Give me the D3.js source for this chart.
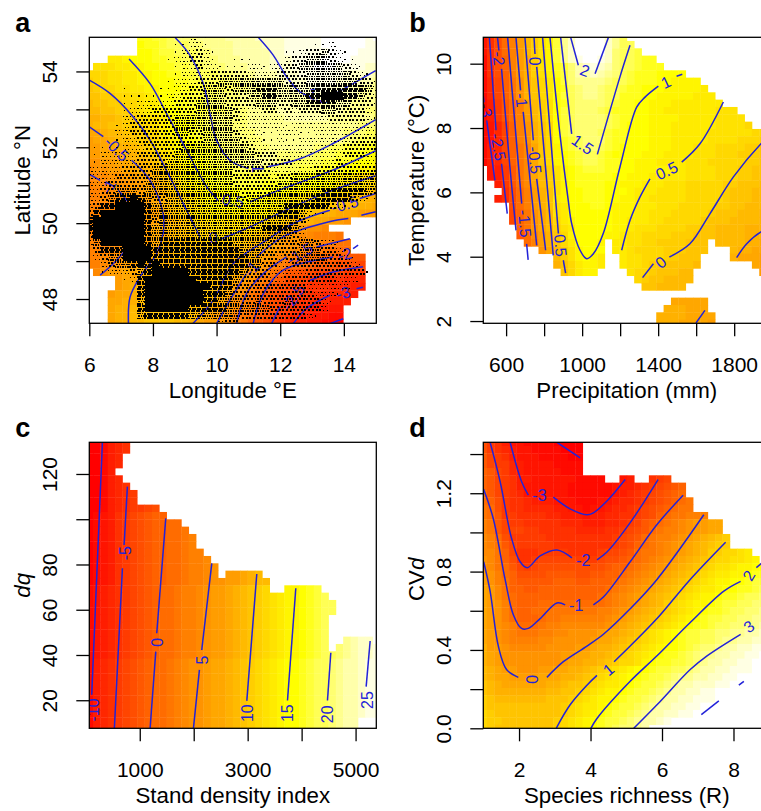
<!DOCTYPE html>
<html>
<head>
<meta charset="utf-8">
<script src="https://cdn.jsdelivr.net/npm/d3@7/dist/d3.min.js"></script>
<style>
  html, body { margin: 0; background: #fff; overflow: hidden; }
  svg { display: block; font-family: "Liberation Sans", Arial, sans-serif; }
</style>
</head>
<body>
<svg id="chart" width="761" height="811"></svg>
<script>
// heat level per grid node, base 36: 0 = red, q = yellow, z = white, . = no data
const surfaceA = [
".......rrs stuuuvvvvw wwwxxxxyyy yyzzzzzzy.",
".......qrr stttuuvvvv wwwwxxxyyy yyzzzzzzyy",
".......qqr sstttuuvvv wwwwwxxyyy yyyzzzzyyy",
"...oopqqqr rssttuuuvv vwwwwxxxyy yyzzzzyyyy",
".nnnooppqq rrssttuuuv vvwwwxxxyy yzzzyyyyxx",
"mmmnnooppq qrrsstttuu vvvwwwxxxy yyyyyxxxxw",
"lmmnnooppq qqrrsstttu uvvwwwwxxx yyyyxxxwwv",
"klmmnnoopp qqqrrssttt uuvvwwwwxx xyyxxwwvvv",
"kkllmmnnop qqrrssttuu uvvvwwwwww xxxxwwwvvv",
"jkkllmmnoo qqrrsstuuu uvvvvwwwww wwwwwwvvvv",
"jjkkllmnop pqqrrssttu uuvvvvwwww wwwwwvvvuu",
"iijjkllmnn opqrrstuuu uuvvvvvwww wwwvvvvvvu",
"ijjkkllmmn opqqrstuuu uuvvvvvvvv vvvvvvvuuu",
"hhijjkklmm opqqrsstuu uuuvvvvvvv vvvvvuuutt",
"ghhijjkllm nopqqrstuu uuuuvvvvvv vvvvvuuttt",
"gghhiijklm nopqqrrstu uuuuuvvvvv vuuttsssrr",
"gghhhiijkl mnopqrrstu uuuuvvuuuu utttssrrqq",
"ffgghhiijk lnopqqrsst uuvvvvuutt ttssrrqqqp",
"effgghhiij kmnopqrrss ttttttttts ssrrrqqppo",
"eeeffgghhi klnoopqrrs ssssssssrr qqppoonmml",
"deefffgghh jkmnopqrrr ssssrrrrqq qqppoonnmm",
"ddeeffgghh iklnooppqq qrrrrqqppp oonnmmllkj",
"ddeeeffggh ijkmnopqqq qqqppooonn mmllkkjjii",
"ddddeeffgh ijklmnoppp pppppoonnm mllkkjjiih",
"dddeeeffgg ijklmnnooo ooooonnmlk kjiihhhggg",
"dddeeeffgg iijklmnnnn nnnnmllkji ihhggf....",
"dddeeeffgh ijjklmmnnn nnmmlkjihg ffe.......",
"dddeeefggh hijjklllmm mllkjihgfe edddc.....",
"dddeeffggh iijjkkllll kkjjihgffe eeddcc....",
"dddeefgghh iijjjkkkkj jjiihgffee dccbbb....",
"ddeefgghhi iijjjjjjji iiihgfedcc bbaa9999..",
"ddeffgghhi iiijjjjjjj iihgfedcbb a9998887..",
".efgghhiij jjjjjjjjjj ihgfecb998 87777666..",
"....ghhiij jjkkkjjjji hgfdcb9887 66555444..",
"....ghiijj jjkkkjjjih gfecb98776 55544433..",
"...ghhiijj jkkkkkkjih fecb987776 5544433...",
"...hhiijjk kkkkkkjihf edcb987665 544333....",
"...hiijjjk kkkkjjihgf edcb986655 33222.....",
"...hiijjkk kkkjjihgff dcb9876543 32211.....",
"...hiijjkk kkjjihggfe dca9865433 22110....."
];

// inventory plots on panel a: ink density per cell (0 none, 6 solid)
const plotDensityA = [
"0000000000 0011211000 0000000000 0000000000",
"0000000000 0011221000 0000000000 0112000000",
"0000000000 0012232100 0000000112 3343210000",
"0000000000 0122332100 1110000233 4443211000",
"0000000000 0012232211 1122122334 4444432100",
"0000000000 0012222333 3322223333 4444443210",
"0000000000 0122233344 4444444333 4444444331",
"0000010000 1122334443 4445554444 4555555542",
"0000011111 1223334443 3344554444 5566655432",
"0000011222 2233344443 3334443344 5555443331",
"0000012223 3333344444 3222332323 3344333321",
"0000022333 3344444444 3222222222 2223333321",
"0000123333 3344444444 2222222122 2222222221",
"0000223333 3344334444 3222112221 1222222222",
"0000122333 3333334444 4322112112 2222223333",
"1111122233 3334444444 4432222222 2222233333",
"1122222333 3344444444 4443332222 2222233322",
"1122222333 3444444444 4444333322 2222322222",
"2222233334 4444444444 3333322222 2333333333",
"2222333334 4444444444 3333323344 4444444444",
"2223333344 4444444444 3333334444 4444444444",
"2233444344 4444444444 4333344444 4455555543",
"2234556543 3444444444 4344444444 4555553211",
"2355666654 4444444444 4444444555 5553211000",
"3566666654 4444444444 4444445554 2110000000",
"5666666653 4444444444 4444444443 1000000000",
"5666666654 4444444444 4444555542 0000000000",
"3666666654 4444444444 4444444432 0000000000",
"2466666654 5555555555 4444433334 4322100000",
"1355566665 5555555555 5444333334 4433210000",
"0234466665 5555555555 5544332334 4443321000",
"0023445656 5555555555 5544332233 3333332100",
"0012223456 6666555555 5433322222 3333333310",
"0000012566 6666655555 4333322333 3333222000",
"0000000566 6666666555 3333333333 2222220000",
"0000000566 6666665554 3333333333 3222100000",
"0000000466 6666665544 4334333433 3321000000",
"0000000566 6666555554 4444433333 3320000000",
"0000000455 5555444444 4333333333 2100000000",
"0000000000 0000000123 3100000000 0000000000"
];
// dots along each side of a cell, by density
const dotsPerSide = [0, 1, 2, 2, 3, 3, 4];

// contour pieces in longitude / latitude, broken where a label sits
const contoursA = [
  [[11.31,54.9],[11.78,54.43],[12.2,53.86],[12.62,53.46],[13.04,53.31]],
  [[13.66,53.38],[14.29,53.68],[15,54.02]],
  [[8.69,54.9],[9.16,54.43],[9.58,53.68],[9.79,52.89],[10,52.19],[10.42,51.66],[11,51.44]],
  [[11.57,51.48],[12.62,51.7],[13.66,52.1],[15,52.73]],
  [[7.25,54.33],[7.91,53.68],[8.43,52.89],[9.06,51.92],[9.69,50.96],[10.05,50.6]],
  [[11.05,50.56],[12.09,50.91],[13.66,51.4],[15,51.91]],
  [[6,53.77],[6.65,53.42],[7.38,52.8],[7.91,52.19],[8.53,51.22],[9.16,50.17],[9.48,49.64]],
  [[10.16,49.59],[11.05,49.9],[12.41,50.43],[13.66,50.87],[15,51.25]],
  [[6,52.54],[6.44,52.28]],
  [[7.33,51.66],[7.91,51.13],[8.32,50.25],[8.32,49.73],[8.12,49.2],[7.59,48.58],[7.28,48.05],[7.23,47.35]],
  [[9.25,47.35],[9.9,47.97],[10.52,48.93],[11.57,49.55],[12.41,49.99],[13.56,50.34]],
  [[14.5,50.65],[15,50.78]],
  [[6,51.29],[6.34,51.13]],
  [[6.91,50.87],[7.38,50.34],[7.49,49.9],[7.28,49.46],[6.75,48.93],[6.34,48.63]],
  [[10,47.35],[10.42,47.97],[10.94,48.67]],
  [[11.26,49.11],[12.09,49.64],[13.51,50.03],[14.14,50.12]],
  [[14.55,50.21],[15,50.3]],
  [[10.63,47.35],[10.94,48.14],[11.47,48.67],[12.2,49.11]],
  [[13.14,49.37],[14.19,49.59]],
  [[11.15,47.35],[11.47,48.14],[12.09,48.76],[13.66,49.11]],
  [[14.29,49.33],[14.45,49.42]],
  [[11.73,47.35],[11.99,47.79]],
  [[12.93,48.49],[13.66,48.71],[14.6,48.85]],
  [[12.41,47.35],[12.83,47.75],[13.56,48.1]],
  [[14.4,48.27],[14.6,48.31]],
  [[13.56,47.35],[13.98,47.48]]
];
const labelsA = [
  [13.2,53.36,"1.5"],[11.28,51.44,"1"],[10.52,50.6,"0.5"],[9.9,49.62,"0"],
  [6.87,51.96,"-0.5"],[14.03,50.5,"-0.5"],[6.6,50.96,"-1"],[11.1,48.8,"-1"],
  [12.62,49.2,"-1.5"],[14.03,49.18,"-2"],[12.41,48.05,"-2.5"],[13.98,48.16,"-3"]
];
const tiltsA = [20,90,10,-10,45,-15,-60,-50,-30,-15,-55,-15];

const surfaceB = [
"258bdgjlnp svxzzzzxvt .......... ..........",
"258bdgjlnp svxzzzzxvt t......... ..........",
"258bdgjlnp svxzzzzxut ts........ ..........",
"158adgilnp svxyzzyxut tsrr...... ..........",
"158adgilnp rsuwxyxwut tsrrr..... ..........",
"158adgilnp rsuwwxwvut srrrqqqq.. ..........",
"147acfikmo qsuvvvvutt srrrqqpppp ..........",
"147acfikmo qrtuvvutts rrqqqppppp o.........",
"147acfikmo qstuvvuttr rrqqpppppo oo........",
"1369bdgjln qrtuuuutsr rqqpppoooo ooo.......",
"1369bdgjln qstuuutsrr rqqppooooo oonnn.....",
"1369bdgjln qstuuuutsr rqqppppooo oonnnn....",
"1247adfikm qstuuuutsr qqqpppoooo oonnnnm...",
"1247adfikm qstuuutsrr qqqpppoooo onnnnnnmmm",
"1247adfikm qrstuuusrr qqqpppoooo onnnnmmmll",
"1347acehkm prstuutsrq qqqpppooon nnmmmmllkk",
"1347acehkm pqrsttsrqq qqpppoooon nnmmmlllkk",
"1347acehkm pqrsttsrrq qpppoooonn nmmmmmllkk",
".2369cehjl npqrsssrrq qpppppoonn nnmmmllkkk",
".2369cehjl npqrrrrrqq pppooooonn nnmmmllkkk",
"..369cehjl npqrrrrqqp ppooonnnmm mmmllkkkjj",
"...58bdgik npqqrrrqqq pooonnnnmm mmmlkkkjjj",
"..358bdgik opqqrrrqqp poonnnnnmm mmmlkkkjjj",
"....8bdgik noqqqrrqpp pooonnnmmm mmllkkjjjj",
"....7acfhj noqqqqqqpp poonnnmmmm mlkkkjjjii",
"....7acfhj mopqqqqqpp ooonnmmmmm lkkkjjjjii",
".....acfhj lnoqqqqqpp onnnmmmmll kkjjjjiiih",
".....9begi kmpqqqqppo nnmmmmlllk kkjjjjiiih",
"......bdgi kmoqqqp.oo nnmmllllkk k.jjjjiihh",
"........fh jlnpqqq.oo nmmmmlllkk k...jiihhh",
".......... jlnpqpo..o nnmmmllkkk ....ihhhgg",
".......... ikmoppo..o nnmllkkkkj .......hgg",
".......... .kmopp.... nmmlkkkjj. ........gg",
".......... .......... .mlkkjjjj. ..........",
".......... .......... ..kkjjjj.. ..........",
".......... .......... .......... ..........",
".......... .......... ......hhhh h.........",
".......... .......... .....iiihh h.........",
".......... .......... ....iiiihh hh........",
".......... .......... ....iiihhh hg........"
];
const contoursB = [
  [[480,9],[484,8.8]],
  [[498,8.24],[541,6.37]],
  [[512,10.81],[547,7.93]],
  [[576,6.89],[606,5.34]],
  [[555,10.81],[562,10.41]],
  [[576,9.84],[620,6.79],[652,4.82]],
  [[608,10.81],[682,5.65]],
  [[708,4.4],[716,3.9]],
  [[652,10.81],[676,9.17]],
  [[690,8.5],[761,4.35]],
  [[699,10.81],[743,7.62]],
  [[761,6.42],[808,4.2]],
  [[747,10.81],[752,10.3]],
  [[761,9.9],[848,4.04]],
  [[792,10.81],[875,4.72]],
  [[901,3.89],[913,3.49]],
  [[831,10.81],[883,7.82],[927,5.75],[945,5.03],[989,4.2],[1024,3.94],[1059,4.09],[1111,4.72],[1199,6.79],[1287,8.65],[1331,8.96],[1401,9.3]],
  [[1497,9.61],[1527,9.67]],
  [[887,10.81],[945,7.82]],
  [[1080,7.18],[1199,9.59],[1252,10.57]],
  [[940,10.81],[980,9.95]],
  [[1068,9.69],[1138,10.81]],
  [[1208,4.2],[1252,5.13],[1304,5.85],[1357,6.42]],
  [[1524,6.94],[1620,7.51],[1743,8.81]],
  [[1318,3.35],[1375,3.78]],
  [[1459,3.99],[1567,4.4],[1673,5.34],[1796,6.48],[1941,7.51],[2076,8.24]],
  [[1813,3.97],[1866,4.4],[1941,4.77],[2020,4.95]],
  [[1599,1.94],[1646,2.33]]
];
const labelsB = [
  [494,8.55,"-3"],[559,7.41,"-2.5"],[562,10.16,"-2"],[699,5.03,"-1.5"],[682,8.86,"-1"],
  [752,7,"-0.5"],[752,10.08,"0"],[887,4.35,"0.5"],[1441,9.43,"1"],[1003,7.49,"1.5"],
  [1015,9.79,"2"],[1445,6.68,"0.5"],[1413,3.83,"0"]
];
const tiltsB = [80,80,85,85,85,85,90,85,-25,35,20,-25,-40];

const surfaceC = [
"001345.... .......... .......... ..........",
"001345.... .......... .......... ..........",
"00134..... .......... .......... ..........",
"00134..... .......... .......... ..........",
"0013...... .......... .......... ..........",
"00134..... .......... .......... ..........",
"001345.... .......... .......... ..........",
"0013456... .......... .......... ..........",
"0013456... .......... .......... ..........",
"0013456678 .......... .......... ..........",
"012356789a a......... .......... ..........",
"012356789a abb....... .......... ..........",
"012356789a abbc...... .......... ..........",
"012356789a abbcd..... .......... ..........",
"012356789a abbcd..... .......... ..........",
"012356789a abbcdd.... .......... ..........",
"012356789a abbcdde... .......... ..........",
"012356789a abbcddef.. .......... ..........",
"012356789a abbcddef.g ghij...... ..........",
"012356789a abbcddeffg ghijj..... ..........",
"123456789a bbcddefggh ijklm..ppq rs........",
"123456789a bbcddefggh ijklmnoppq rst.......",
"123456789a bbcddefggh ijklmnoppq rstt......",
"123456789a bbcddefggh ijklmnoppq rstt......",
"123456789a bbcddefggh ijklmnoppq rst.......",
"123456789a bbcddefggh ijklmnoppq rst.......",
"123456789a bbcddefggh ijklmnoppq rst.......",
"123456789a bbcddefggh ijklmnoppq rst..vwxx.",
"123456789a bbcddefggh ijklmnoppq rst.uvwxxy",
"123456789a bbcddefggh ijklmnoppq rsttuvwxxy",
"13456789ab bcdeffghhi jklmnopqqr sttuvwwxyy",
"13456789ab bcdeffghhi jklmnopqqr sttuvwwxyy",
"13456789ab bcdeffghhi jklmnopqqr sttuvwwxyy",
"13456789ab bcdeffghhi jklmnopqqr sttuvwwxyy",
"13456789ab bcdeffghhi jklmnopqqr sttuvwwxyy",
"13456789ab bcdeffghhi jklmnopqqr sttuvwwxyy",
"13456789ab bcdeffghhi jklmnopqqr sttuvwwxyy",
"13456789ab bcdeffghhi jklmnopqqr sttuvwwxyy",
"13456789ab bcdeffghhi jklmnopqqr sttuvww...",
"13456789ab bcdeffghhi jklmnopqqr sttuvww..."
];
const contoursC = [
  [[308,134],[110,22.4]],
  [[771,114.4],[710,88.6]],
  [[679,78.3],[530,7.6]],
  [[1482,100.4],[1315,49.6]],
  [[1297,41.5],[1192,7.6]],
  [[2335,80.5],[2149,42.2]],
  [[2106,33.4],[1995,7.6]],
  [[3169,75.8],[2984,19.7]],
  [[3892,69.5],[3738,19.9]],
  [[4541,41],[4479,19.9]],
  [[5270,46.2],[5196,26]]
];
const labelsC = [
  [141,15.7,"-10"],[728,85,"-5"],[1328,45.6,"0"],[2149,37.8,"5"],[2984,14.3,"10"],
  [3738,14.3,"15"],[4479,13.8,"20"],[5209,20.1,"25"]
];
const tiltsC = [-90,-90,-90,-90,-90,-90,-90,-90];

const surfaceD = [
"8653221111 0000...... .......... ..........",
"8654322111 1000...... .......... ..........",
"9765322211 1100...... .......... ..........",
"9766432222 1111...... .......... ..........",
"a976432222 2111...... .......... ..........",
"a976533222 2221111..2 3..567.... ..........",
"a976532222 2211111123 3456789a.. ..........",
"b976542222 2211111123 456789ab.. ..........",
"ba86554333 2221112234 456789abc. ..........",
"cb86554444 3322122344 56789abcc. ..........",
"cb96655554 4333233445 5678abccdd d.........",
"dc97665555 5444333445 679abcdefg ghh.......",
"dc97776655 5554444556 789bcddefg ghh.......",
"edb8666665 5555555567 89bcddefgh ijkl......",
"edc9766666 5555555567 8abcdefghi jkll......",
"eeca755566 6655556778 9bccdefghi jllmmno...",
"feca855677 7776667889 abcdefghij klmmnnop..",
"fecb976788 88888889aa bcdefghijk lmnnoppqqr",
"gfdba88889 9998899aab cdefghijkl mnooppqrrs",
"gfdca99999 aaa99aaabc defghijklm noppqqrsst",
"hgecaa99aa aaaaaaabcd efghijklmn oopqqrrstt",
"hgecbaaaaa aaaaaabcde fghijklmno ppqrrsttuv",
"hgfdbaaabb bbbbbbbcde fghijlmnop pqrssttuuu",
"hgfdbaabbc ccccccddef ghijklmnop qrrsttuuvv",
"hgfdbaaabc cddddddefg hijklmnopq rssttuuvvw",
"hgfedbbbcd deeeeeefgh ijklmnopqr rsttuuvvww",
"hgfedcccdd eeffffghhi jkmnopqrss ttuuvvwwxx",
"hgfeddddee fffffghhij klmnopqrss ttuvvwwxxy",
"iggfeeeeef fffgghiijk lmnopqqrst uuvwwxxyyy",
"ihgfffffff fgghhiijkl mnopqrrstu vvwwxxyyzz",
"ihgfffffff fghhiijklm mnpqrrsstu vwwxxyyz..",
"jihggfffgg hhiijklmno pqqrssttuv wwxxyyyz..",
"jihhgggghh hiijklmnop qqrsstuvvw wxxyyzzz..",
"kjihhhhhhi ijkklmnoop qrsstuvwwx xxyyzzz...",
"kjiiiiiiij jkklmnoppq rsstuvwwxx yyzzzz....",
"lkjjjjjjjk kklmnoppqr sstuvwwxxy yyzz......",
"lkkkkkkkkk klmnoopqrs stuvwwxxyy zz........",
"mlkkkkkkkk klmnopqrss tuvwwxxyyz ..........",
"mllkkkkkkk lmnopqrsst uvwwxy.... ..........",
"mlkkkkkkkk lmnopqrstu uvw....... .........."
];
const contoursD = [
  [[3.06,1.46],[3.71,1.38]],
  [[1.75,1.46],[2.07,1.26],[2.26,1.19]],
  [[2.96,1.18],[3.43,1.12],[3.9,1.09],[4.08,1.1],[4.46,1.16],[4.97,1.27]],
  [[1.19,1.46],[1.47,1.26],[1.79,0.97],[2.03,0.85],[2.23,0.82],[2.59,0.88],[3.06,0.91],[3.48,0.87]],
  [[4.18,0.86],[4.46,0.9],[5.11,1.05],[5.89,1.27]],
  [[1.01,1.22],[1.28,1.07],[1.61,0.76],[1.84,0.58],[2.07,0.51],[2.26,0.51],[2.59,0.56],[3.06,0.64],[3.29,0.63]],
  [[4.08,0.63],[4.36,0.67],[5.11,0.85],[5.86,1.04],[6.59,1.19]],
  [[1.01,0.85],[1.19,0.7],[1.42,0.42],[1.65,0.3],[1.98,0.26]],
  [[2.78,0.26],[3.24,0.34],[3.9,0.42],[4.36,0.48],[5.11,0.61],[5.86,0.76],[7.17,1.09]],
  [[3.04,0],[3.43,0.12],[3.9,0.22],[4.18,0.27]],
  [[4.66,0.34],[5.11,0.42],[5.86,0.56],[6.79,0.76],[7.78,0.95]],
  [[4.01,0],[4.18,0.05],[5.11,0.24],[5.86,0.37],[6.79,0.54],[7.73,0.7],[8.2,0.75]],
  [[8.64,0.82],[8.9,0.86]],
  [[5.21,0],[5.86,0.12],[6.79,0.3],[7.26,0.37],[8.2,0.48]],
  [[8.79,0.57],[9.13,0.61]],
  [[7.1,0.07],[7.59,0.14]],
  [[8.15,0.22],[8.29,0.24]]
];
const labelsD = [
  [2.57,1.19,"-3"],[3.8,0.86,"-2"],[3.6,0.63,"-1"],[2.38,0.25,"0"],[4.5,0.3,"1"],
  [8.43,0.78,"2"],[8.43,0.52,"3"]
];
const tiltsD = [0,0,0,-90,-40,-60,-35];

const xTicksA = [6,8,10,12,14];
const xTickLabelsA = ["6","8","10","12","14"];
const yTicksA = [48,49,50,51,52,53,54];
const yTickLabelsA = ["48","","50","","52","","54"];
const xTicksB = [600,800,1000,1200,1400,1600,1800];
const xTickLabelsB = ["600","","1000","","1400","","1800"];
const yTicksB = [2,4,6,8,10];
const yTickLabelsB = ["2","4","6","8","10"];
const xTicksC = [1000,2000,3000,4000,5000];
const xTickLabelsC = ["1000","","3000","","5000"];
const yTicksC = [20,40,60,80,100,120];
const yTickLabelsC = ["20","40","60","80","","120"];
const xTicksD = [2,4,6,8];
const xTickLabelsD = ["2","4","6","8"];
const yTicksD = [0,0.2,0.4,0.6,0.8,1,1.2,1.4];
const yTickLabelsD = ["0.0","","0.4","","0.8","","1.2",""];

const W = 287, H = 286, nodes = 40;
const tickFont = 21, titleFont = 22.3, contourFont = 16;
const contourBlue = "#2222d8";
const dotSize = [0, 1.3, 1.2, 2, 1.6, 2, 2];

const heat = d3.scaleLinear().domain([0, 26, 35]).range(["#ff0000", "#ffff00", "#ffffff"]);
const parseRows = rows => rows.map(r => r.replace(/ /g, ""));
const svg = d3.select("#chart");

function drawPanel(p) {
  const g = svg.append("g").attr("transform", `translate(${p.left},${p.top})`);
  const x = d3.scaleLinear().domain(p.xDomain).range([0, W]);
  const y = d3.scaleLinear().domain(p.yDomain).range([H, 0]);
  const cellX = d3.scaleLinear().domain([0, nodes - 1]).range([0, W]);
  const cellY = d3.scaleLinear().domain([0, nodes - 1]).range([0, H]);

  const clipId = "clip-" + p.letter;
  g.append("clipPath").attr("id", clipId).append("rect").attr("width", W).attr("height", H);
  const plot = g.append("g").attr("clip-path", `url(#${clipId})`);

  // image cells centred on the grid nodes, so the outer ones are cut in half by the box
  const cells = [];
  parseRows(p.surface).forEach((row, r) => {
    row.split("").forEach((ch, c) => {
      if (ch !== ".") cells.push({ r, c, level: parseInt(ch, 36) });
    });
  });
  plot.selectAll("rect.cell").data(cells).join("rect")
    .attr("class", "cell")
    .attr("x", d => cellX(d.c - 0.5))
    .attr("y", d => cellY(d.r - 0.5))
    .attr("width", cellX(1) + 0.4)
    .attr("height", cellY(1) + 0.4)
    .attr("fill", d => heat(d.level));

  const line = d3.line().x(d => x(d[0])).y(d => y(d[1])).curve(d3.curveCatmullRom.alpha(0.5));
  plot.selectAll("path.contour").data(p.contours).join("path")
    .attr("class", "contour")
    .attr("d", line)
    .attr("fill", "none")
    .attr("stroke", contourBlue)
    .attr("stroke-width", 1.5);

  plot.selectAll("text.level").data(p.labels).join("text")
    .attr("class", "level")
    .attr("transform", (d, i) => `translate(${x(d[0])},${y(d[1])}) rotate(${p.tilts[i]})`)
    .attr("text-anchor", "middle")
    .attr("dy", "0.36em")
    .attr("font-size", contourFont)
    .attr("fill", contourBlue)
    .text(d => d[2]);

  if (p.density) {
    const dots = [];
    parseRows(p.density).forEach((row, r) => {
      row.split("").forEach((ch, c) => {
        const n = dotsPerSide[+ch];
        d3.range(n).forEach(j => d3.range(n).forEach(i => {
          const shift = j % 2 ? 0.25 / n : -0.25 / n;
          dots.push({
            col: c - 0.5 + (i + 0.5) / n + shift,
            row: r - 0.5 + (j + 0.5) / n,
            size: dotSize[+ch]
          });
        }));
      });
    });
    plot.selectAll("rect.plot").data(dots).join("rect")
      .attr("class", "plot")
      .attr("x", d => cellX(d.col) - d.size / 2)
      .attr("y", d => cellY(d.row) - d.size / 2)
      .attr("width", d => d.size)
      .attr("height", d => d.size)
      .attr("shape-rendering", "crispEdges")
      .attr("fill", "#000");
  }

  const xAxis = d3.axisBottom(x).tickValues(p.xTicks).tickSize(13)
    .tickFormat((d, i) => p.xTickLabels[i]);
  const yAxis = d3.axisLeft(y).tickValues(p.yTicks).tickSize(13)
    .tickFormat((d, i) => p.yTickLabels[i]);

  const gx = g.append("g").attr("transform", `translate(0,${H})`).call(xAxis);
  const gy = g.append("g").call(yAxis);
  [gx, gy].forEach(a => {
    a.select(".domain").remove();
    a.attr("font-size", tickFont).attr("font-family", null);
    a.selectAll("line").attr("stroke", "#000").attr("stroke-width", 1.3);
    a.selectAll("text").attr("fill", "#000");
  });
  gx.selectAll("text").attr("y", 49).attr("dy", 0);
  gy.selectAll("text")
    .attr("transform", "rotate(-90)")
    .attr("text-anchor", "middle")
    .attr("x", 0).attr("y", -32).attr("dy", 0);

  g.append("rect").attr("width", W).attr("height", H)
    .attr("fill", "none").attr("stroke", "#000").attr("stroke-width", 1.3);

  g.append("text").attr("x", W / 2).attr("y", H + 75)
    .attr("text-anchor", "middle").attr("font-size", titleFont).text(p.xTitle);

  const yTitle = g.append("text")
    .attr("transform", `translate(-59,${p.yTitleAt}) rotate(-90)`)
    .attr("text-anchor", "middle").attr("font-size", titleFont);
  p.yTitle.forEach(([s, italic]) => {
    yTitle.append("tspan").attr("font-style", italic ? "italic" : null).text(s);
  });

  svg.append("text").attr("x", p.left - 74).attr("y", p.top - 5)
    .attr("font-size", 27).attr("font-weight", "bold").text(p.letter);
}

drawPanel({
  letter: "a", left: 89.3, top: 37.3, xDomain: [6, 15.02], yDomain: [47.36, 54.9],
  surface: surfaceA, density: plotDensityA, contours: contoursA, labels: labelsA, tilts: tiltsA,
  xTicks: xTicksA, xTickLabels: xTickLabelsA, yTicks: yTicksA, yTickLabels: yTickLabelsA,
  xTitle: "Longitude °E", yTitle: [["Latitude °N", false]], yTitleAt: 143
});
drawPanel({
  letter: "b", left: 483.3, top: 37.3, xDomain: [480, 1990], yDomain: [1.93, 10.82],
  surface: surfaceB, contours: contoursB, labels: labelsB, tilts: tiltsB,
  xTicks: xTicksB, xTickLabels: xTickLabelsB, yTicks: yTicksB, yTickLabels: yTickLabelsB,
  xTitle: "Precipitation (mm)", yTitle: [["Temperature (°C)", false]], yTitleAt: 143
});
drawPanel({
  letter: "c", left: 89.3, top: 442.3, xDomain: [65, 5384], yDomain: [7.6, 134],
  surface: surfaceC, contours: contoursC, labels: labelsC, tilts: tiltsC,
  xTicks: xTicksC, xTickLabels: xTickLabelsC, yTicks: yTicksC, yTickLabels: yTickLabelsC,
  xTitle: "Stand density index", yTitle: [["dq", true]], yTitleAt: 143
});
drawPanel({
  letter: "d", left: 483.3, top: 442.3, xDomain: [1, 9.03], yDomain: [0, 1.46],
  surface: surfaceD, contours: contoursD, labels: labelsD, tilts: tiltsD,
  xTicks: xTicksD, xTickLabels: xTickLabelsD, yTicks: yTicksD, yTickLabels: yTickLabelsD,
  xTitle: "Species richness (R)", yTitle: [["CV", false], ["d", true]], yTitleAt: 137
});
</script>
</body>
</html>
